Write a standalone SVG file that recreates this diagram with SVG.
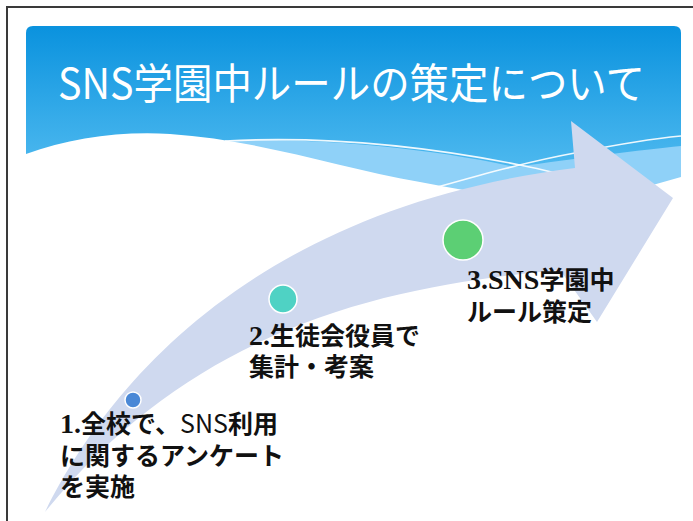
<svg xmlns="http://www.w3.org/2000/svg" width="693" height="521" viewBox="0 0 693 521">
<defs>
<linearGradient id="hdr" x1="0" y1="0" x2="0" y2="1">
<stop offset="0" stop-color="#0a92de"/>
<stop offset="0.5" stop-color="#35abe9"/>
<stop offset="1" stop-color="#5ec2f3"/>
</linearGradient>
<style>
.title{font-family:"Noto Sans CJK JP","Liberation Sans",sans-serif;font-size:42px;fill:#ffffff}
.lbl{font-family:"Liberation Serif","Noto Sans CJK JP",serif;font-size:25px;font-weight:bold;fill:#111111}
.num{font-size:28px}
.sans{font-family:"Noto Sans CJK JP","Liberation Sans",sans-serif;font-weight:normal}
.wline{fill:none;stroke:#ffffff;stroke-width:1.6;opacity:0.9}
.dot{stroke:#ffffff;stroke-width:1.5}
</style>
</defs>
<rect x="0" y="0" width="693" height="521" fill="#ffffff"/>
<rect x="7" y="7" width="700" height="530" fill="none" stroke="#3a3a3a" stroke-width="2"/>
<g id="header">
<path d="M26,33 Q26,26 33,26 L674,26 Q681,26 681,33 L681,205 L26,205 Z" fill="url(#hdr)"/>
<path d="M225,141 C300,137 420,146 515,167 C580,158 640,150 681,146 L681,205 L225,205 Z" fill="#8fd1f8"/>
<path d="M26,154 C70,138 120,131 170,134 C260,140 340,168 420,182 C480,193 540,205 600,198 C630,192 655,184 681,177 L681,215 L26,215 Z" fill="#ffffff"/>
<path class="wline" d="M225,141 C320,136 420,145 520,165 C560,173 590,182 620,190"/>
<path class="wline" d="M420,192 C470,178 520,163 580,152 C620,144 650,139 681,136"/>
<text class="title" x="58" y="99" textLength="587" lengthAdjust="spacingAndGlyphs">SNS学園中ルールの策定について</text>
</g>
<g id="connectors">
<path id="arrow" d="M45,512 C100,400 240,210 575,168 L571,121 L673,198 L597,322 L560,270 C400,285 200,320 45,512 Z" fill="#cfd9ef"/>
</g>
<g id="step1">
<circle class="dot" cx="133" cy="400" r="8" fill="#4a88d6"/>
<text class="lbl" x="60" y="433"><tspan class="num">1.</tspan>全校で、<tspan class="sans">SNS</tspan>利用</text>
<text class="lbl" x="60" y="465">に関するアンケート</text>
<text class="lbl" x="60" y="496">を実施</text>
</g>
<g id="step2">
<circle class="dot" cx="283" cy="299" r="14" fill="#4fd2c4"/>
<text class="lbl" x="249" y="345"><tspan class="num">2.</tspan>生徒会役員で</text>
<text class="lbl" x="249" y="376">集計・考案</text>
</g>
<g id="step3">
<circle class="dot" cx="463" cy="240" r="20" fill="#5ccf74"/>
<text class="lbl" x="467" y="289"><tspan class="num">3.SNS</tspan>学園中</text>
<text class="lbl" x="467" y="321">ルール策定</text>
</g>
</svg>
